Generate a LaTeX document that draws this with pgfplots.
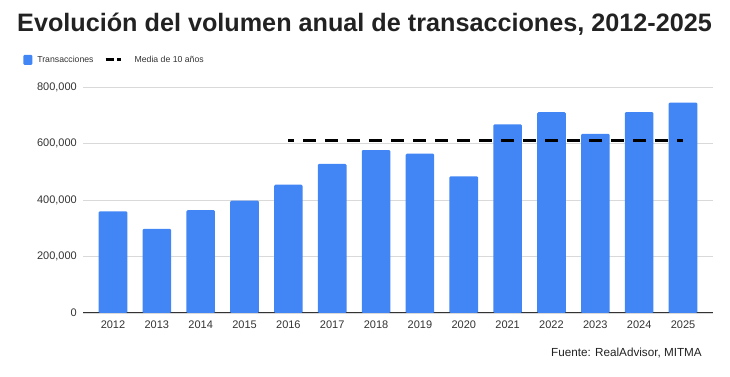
\documentclass[border=0pt]{standalone}
\usepackage{fontspec}
\setmainfont{Liberation Sans}
\usepackage{pgfplots}
\pgfplotsset{compat=1.18}
\definecolor{barblue}{HTML}{4285F4}
\definecolor{gridgray}{HTML}{D9D9D9}
\definecolor{axisgray}{HTML}{333333}
\definecolor{txt}{HTML}{222222}
\definecolor{lbl}{HTML}{333333}
\begin{document}
\begin{tikzpicture}[x=1pt,y=1pt]
\path[use as bounding box] (0,0) rectangle (730,377);
\node[anchor=base west, font=\bfseries\fontsize{25.2}{30}\selectfont, text=txt, inner sep=0pt] at (17,345) {Evolución del volumen anual de transacciones, 2012-2025};
\begin{axis}[
  at={(83pt,64pt)}, anchor=south west,
  scale only axis, width=630pt, height=226pt,
  xmin=-0.684, xmax=13.684, ymin=0, ymax=800000,
  xtick={0,1,2,3,4,5,6,7,8,9,10,11,12,13},
  xticklabels={2012,2013,2014,2015,2016,2017,2018,2019,2020,2021,2022,2023,2024,2025},
  ytick={0,200000,400000,600000,800000},
  scaled y ticks=false,
  yticklabel style={/pgf/number format/fixed, /pgf/number format/precision=0, /pgf/number format/1000 sep={,}, /pgf/number format/assume math mode=true},
  yticklabel style={inner sep=0pt, xshift=-6pt, font=\fontsize{11}{13}\selectfont, text=lbl},
  xticklabel style={inner sep=0pt, yshift=-8pt, font=\fontsize{11}{13}\selectfont, text=lbl},
  major tick length=0pt,
  axis x line*=bottom, axis y line*=left,
  x axis line style={draw=axisgray, line width=1pt, -},
  y axis line style={draw=none},
  ymajorgrids, grid style={gridgray, line width=0.8pt},
  legend style={at={(axis description cs:-0.095,1.12)}, anchor=west, draw=none, fill=none,
    font=\fontsize{8.7}{10}\selectfont, text=lbl, inner sep=0pt,
    /tikz/every odd column/.append style={column sep=3pt},
    /tikz/every even column/.append style={column sep=8pt}},
  legend columns=2, legend cell align=left,
]
\addplot[ybar, bar width=28.6pt, bar shift=0pt, fill=barblue, draw=none, rounded corners=1.2pt,
  legend image code/.code={\fill[barblue] (0pt,-5pt) rectangle (9pt,5pt);}]
  coordinates {(0,360000) (1,298000) (2,364000) (3,398000) (4,454000) (5,528000) (6,577000)
               (7,564000) (8,484000) (9,668000) (10,711000) (11,634000) (12,711000) (13,745000)};
\addlegendentry{Transacciones}
\addplot[black, line width=3.2pt, dash pattern=on 12.7pt off 9.3pt, dash phase=7pt, sharp corners,
  legend image code/.code={\draw[black, line width=3pt, dash pattern=on 4pt off 3.5pt on 8pt off 3.5pt on 4pt off 20pt] (0pt,0pt) -- (23pt,0pt);}]
  coordinates {(4,610000) (13,610000)};
\addlegendentry{Media de 10 años}
\end{axis}
\node[anchor=east, font=\fontsize{11.7}{13}\selectfont, text=txt, inner sep=0pt] at (702,24) {Fuente: RealAdvisor, MITMA};
\end{tikzpicture}
\end{document}
